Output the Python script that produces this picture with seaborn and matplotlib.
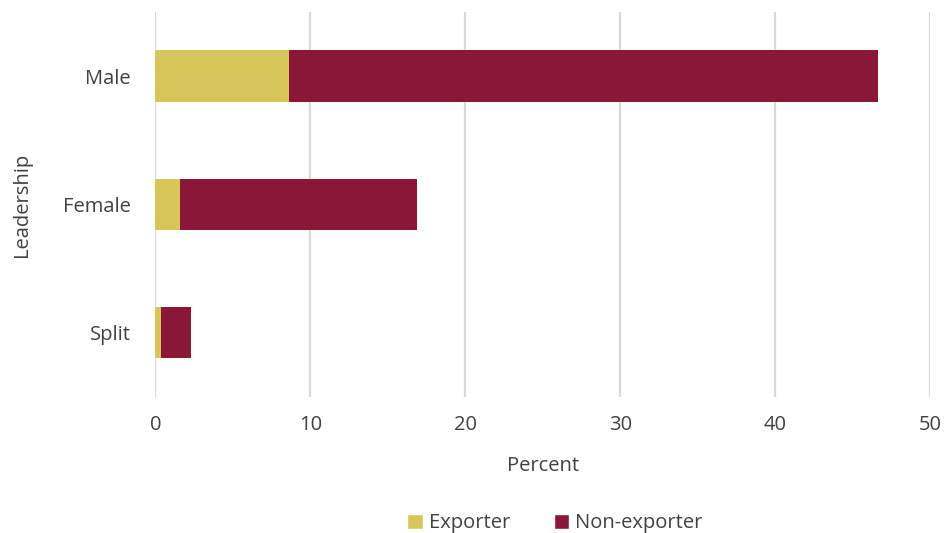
import matplotlib
matplotlib.use("Agg")
import matplotlib.pyplot as plt
import seaborn as sns
import pandas as pd
from matplotlib.patches import Patch

categories = ["Male", "Female", "Split"]
exporter = [8.62, 1.60, 0.33]
non_exporter = [38.04, 15.28, 1.94]
x_ticks = [0, 10, 20, 30, 40, 50]

sns.set_theme(style="white")
plt.rcParams['font.family'] = ['Open Sans', 'DejaVu Sans']

text_col = "#404040"
c_exp = "#D8C65A"
c_non = "#8A1737"
fs = 14.5

df = pd.DataFrame({
    "Leadership": categories,
    "Exporter": exporter,
    "Total": [a + b for a, b in zip(exporter, non_exporter)],
})

fig = plt.figure(figsize=(9.44, 5.33), dpi=100)
ax = fig.add_axes([0.1647, 0.2552, 0.8205, 0.7223])

sns.barplot(data=df, y="Leadership", x="Total", color=c_non, saturation=1,
            width=0.4, ax=ax, orient="h", zorder=3, linewidth=0)
sns.barplot(data=df, y="Leadership", x="Exporter", color=c_exp, saturation=1,
            width=0.4, ax=ax, orient="h", zorder=4, linewidth=0)

ax.set_xlim(0, 50)
ax.set_ylim(2.5, -0.5)
ax.set_xticks(x_ticks)
ax.set_xticklabels([str(t) for t in x_ticks])
ax.xaxis.grid(True, color="#d9d9d9", linewidth=1.6, zorder=0)
ax.yaxis.grid(False)
ax.set_axisbelow(True)
for s in ax.spines.values():
    s.set_visible(False)
ax.tick_params(axis="both", length=0, labelsize=fs, labelcolor=text_col)
ax.tick_params(axis="x", pad=13)
ax.tick_params(axis="y", pad=18)
ax.set_xlabel("Percent", fontsize=fs, color=text_col, labelpad=15)
ax.set_ylabel("Leadership", fontsize=fs, color=text_col, labelpad=22)

handles = [Patch(facecolor=c_exp, label="Exporter"),
           Patch(facecolor=c_non, label="Non-exporter")]
fig.legend(handles=handles, loc="center", bbox_to_anchor=(0.588, 0.018),
           ncol=2, frameon=False, fontsize=fs, handlelength=0.75, handleheight=0.75,
           handletextpad=0.3, columnspacing=2.2, labelcolor=text_col)

fig.savefig("out.png", dpi=100)
